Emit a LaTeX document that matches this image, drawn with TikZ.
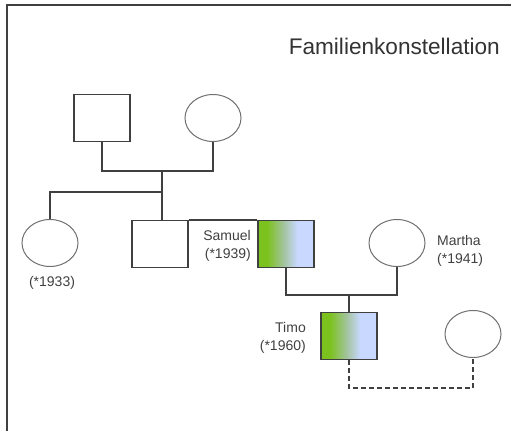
\documentclass[tikz,border=0pt]{standalone}
\usepackage{fontspec}
\setmainfont{Liberation Sans}
\usetikzlibrary{calc,positioning,shapes.geometric}
\definecolor{linegray}{HTML}{404040}
\definecolor{ringgray}{HTML}{707070}
\definecolor{leafgreen}{HTML}{7CC21E}
\definecolor{paleblue}{HTML}{C8D8FF}
\pgfdeclarehorizontalshading{greenblue}{100bp}{
  color(0bp)=(leafgreen); color(33bp)=(leafgreen);
  color(48bp)=(leafgreen!40!paleblue!85!gray); color(60bp)=(paleblue);
  color(100bp)=(paleblue)}
\tikzset{
  male/.style={draw=linegray,line width=1.2pt,rectangle,
    minimum width=56pt,minimum height=47pt,inner sep=0pt},
  female/.style={draw=ringgray,line width=1pt,ellipse,
    minimum width=56pt,minimum height=47pt,inner sep=0pt},
  marked/.style={shading=greenblue},
  line/.style={draw=linegray,line width=1.2pt},
  persontag/.style={font=\fontsize{14}{18}\selectfont,text=linegray,inner sep=0pt}
}
\begin{document}
\begin{tikzpicture}[x=1pt,y=-1pt]
  \useasboundingbox (0,0) rectangle (511,431);
  % frame
  \draw [line,line width=1.5pt]
    (7,431) -- (7,5) -- (511,5)
  ;
  \node [anchor=east,inner sep=0pt,font=\fontsize{22.6}{26}\selectfont,text=black!80]
    (title) at (500,46) {Familienkonstellation}
  ;
  % grandparents
  \node [male] (gfather) at (102,118) {};
  \node [female] (gmother) at (213,118) {};
  % first generation
  \node [female] (aunt) at (50,243) {};
  \node [male] (uncle) at (160,244) {};
  \node [male,marked] (samuel) at (286,244) {};
  \node [female] (martha) at (397,243) {};
  % second generation
  \node [male,marked] (timo) at (349,336) {};
  \node [female] (partner) at (473,334) {};
  % labels
  \node [persontag,anchor=south] (aunt year) at (52,290) {(*1933)};
  \node [persontag,anchor=east,align=right] (samuel label) at (251,246)
    {Samuel\\(*1939)};
  \node [persontag,anchor=west,align=left] (martha label) at (437,251)
    {Martha\\(*1941)};
  \node [persontag,anchor=east,align=right] (timo label) at (306,338)
    {Timo\\(*1960)};
  % connectors
  \coordinate (gparents) at (162,171);
  \coordinate (sibs) at (162,192);
  \coordinate (couple) at (349,295);
  \coordinate (pair) at (410,388);
  \draw [line]
    (gfather.south) |- (gparents) -| (gmother.south)
  ;
  \draw [line]
    (gparents) -- (sibs) -| (aunt.north)
  ;
  \draw [line]
    (sibs) -- (sibs |- uncle.north)
  ;
  \draw [line]
    (uncle.north east) -- (samuel.north west)
  ;
  \draw [line]
    (samuel.south) |- (couple) -| (martha.south)
  ;
  \draw [line]
    (couple) -- (timo.north)
  ;
  \draw [line,dashed,dash pattern=on 5pt off 3pt]
    (timo.south) |- (pair) -| (partner.south)
  ;
\end{tikzpicture}
\end{document}
